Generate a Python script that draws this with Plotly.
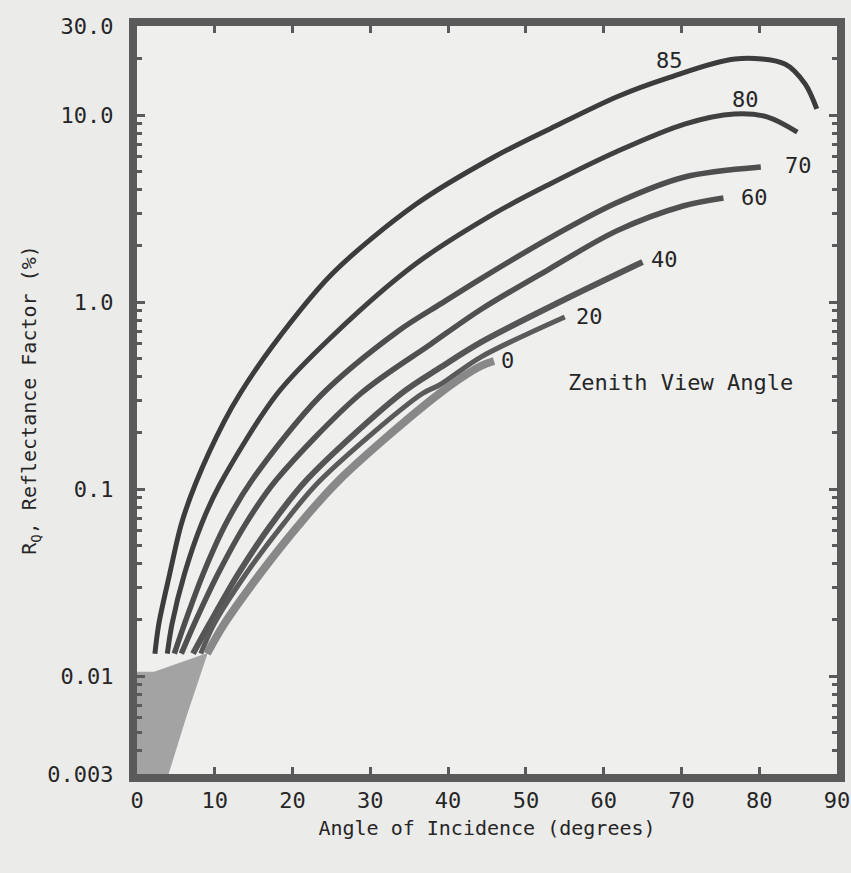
import math
import plotly.graph_objects as go

# ---- data (angle of incidence in degrees, reflectance factor in %) ----
zenith_labels = ["85", "80", "70", "60", "40", "20", "0"]

angle_85 = [2.3, 2.8, 4.2, 5.7, 7.6, 11.2, 13.3, 17.5, 25.1, 35.9, 45.9, 53.2, 61.8, 68.2, 76.9, 83.3, 85.9, 87.4]
refl_85 = [0.0132, 0.019, 0.0352, 0.0651, 0.109, 0.230, 0.327, 0.589, 1.42, 3.35, 5.98, 8.5, 12.6, 15.8, 20.0, 18.8, 14.7, 10.8]

angle_80 = [3.9, 4.5, 6.1, 8.3, 10.6, 18.0, 25.0, 35.8, 45.8, 53.1, 61.7, 70.4, 76.8, 81.1, 84.9]
refl_80 = [0.0132, 0.019, 0.0352, 0.0652, 0.105, 0.323, 0.652, 1.60, 2.96, 4.29, 6.4, 8.97, 10.15, 9.78, 8.13]

angle_70 = [4.8, 6.1, 8.5, 11.4, 14.8, 23.6, 33.6, 39.2, 44.4, 53.1, 61.6, 70.3, 80.2]
refl_70 = [0.0132, 0.019, 0.0352, 0.0651, 0.112, 0.316, 0.702, 0.989, 1.35, 2.21, 3.39, 4.66, 5.28]

angle_60 = [5.7, 7.35, 10.4, 13.95, 17.9, 28.7, 37.8, 44.3, 53.0, 61.6, 70.2, 75.4]
refl_60 = [0.0132, 0.019, 0.0352, 0.0651, 0.112, 0.323, 0.598, 0.92, 1.505, 2.40, 3.27, 3.61]

angle_40 = [7.2, 9.3, 13.0, 17.3, 21.8, 33.9, 39.1, 44.3, 54.6, 65.0]
refl_40 = [0.0132, 0.019, 0.0352, 0.0651, 0.112, 0.323, 0.45, 0.613, 1.015, 1.64]

angle_20 = [8.2, 9.9, 14.0, 18.8, 23.6, 36.6, 39.0, 44.2, 55.0]
refl_20 = [0.0132, 0.019, 0.0352, 0.0651, 0.112, 0.323, 0.363, 0.509, 0.834]

angle_0 = [9.0, 11.2, 15.8, 20.9, 26.0, 38.8, 44.2, 45.9]
refl_0 = [0.0132, 0.019, 0.0352, 0.0651, 0.112, 0.323, 0.456, 0.485]

# converging shaded wedge near the origin
wedge_angle = [0.0, 0.0, 2.2, 9.0, 6.3, 4.0, 0.0]
wedge_refl = [0.003, 0.0105, 0.0105, 0.0132, 0.0061, 0.003, 0.003]

x_ticks = [0, 10, 20, 30, 40, 50, 60, 70, 80, 90]
x_ticktext = ["0", "10", "20", "30", "40", "50", "60", "70", "80", "90"]
y_ticks = [0.003, 0.01, 0.1, 1, 10, 30]
y_ticktext = ["0.003", "0.01", "0.1", "1.0", "10.0", "30.0"]

curves = [
    (angle_85, refl_85, "#3c3c3c", 5),
    (angle_80, refl_80, "#404040", 5),
    (angle_70, refl_70, "#4e4e4e", 5.5),
    (angle_60, refl_60, "#505050", 5.5),
    (angle_40, refl_40, "#555555", 6),
    (angle_20, refl_20, "#5a5a5a", 5),
    (angle_0, refl_0, "#888888", 8),
]

FONT = "DejaVu Sans Mono"
INK = "#262626"
FRAME = "#5a5a5a"

fig = go.Figure()

fig.add_trace(go.Scatter(
    x=wedge_angle, y=wedge_refl, mode="lines", fill="toself",
    fillcolor="#a3a3a3", line=dict(color="#a3a3a3", width=1),
    hoverinfo="skip", showlegend=False))

for (xs, ys, col, w), name in zip(curves, zenith_labels):
    fig.add_trace(go.Scatter(
        x=xs, y=ys, mode="lines", name=name,
        line=dict(color=col, width=w, shape="spline", smoothing=0.9),
        showlegend=False))

labels = [
    ("85", 68.5, 19.5), ("80", 78.2, 12.2), ("70", 85.0, 5.4), ("60", 79.4, 3.65),
    ("40", 67.8, 1.70), ("20", 58.2, 0.843), ("0", 47.6, 0.485),
]
annotations = [dict(x=lx, y=math.log10(ly), xref="x", yref="y", text=t, showarrow=False,
                    font=dict(family=FONT, size=22, color=INK), yanchor="middle")
               for t, lx, ly in labels]
annotations.append(dict(x=69.9, y=math.log10(0.374), xref="x", yref="y",
                        text="Zenith View Angle", showarrow=False,
                        font=dict(family=FONT, size=22, color=INK)))

minor_vals = [m * 10 ** e for e in range(-3, 2) for m in range(2, 10)
              if 0.003 < m * 10 ** e < 30]

fig.update_layout(
    width=851, height=873,
    margin=dict(l=137, r=14, t=26, b=99, autoexpand=False),
    paper_bgcolor="#ebebea", plot_bgcolor="#efefee",
    annotations=annotations,
    font=dict(family=FONT, color=INK),
    hovermode=False,
)
fig.update_xaxes(
    range=[0, 90], tickvals=x_ticks, ticktext=x_ticktext,
    showgrid=False, zeroline=False, automargin=False,
    showline=True, linewidth=8, linecolor=FRAME, mirror="allticks",
    ticks="inside", ticklen=7, tickwidth=3, tickcolor=FRAME,
    tickfont=dict(family=FONT, size=22, color=INK),
    ticklabelstandoff=0,
    title=dict(text="Angle of Incidence (degrees)", font=dict(family=FONT, size=20, color=INK), standoff=12),
)
fig.update_yaxes(
    type="log", range=[math.log10(0.003), math.log10(30)],
    tickvals=y_ticks, ticktext=y_ticktext,
    showgrid=False, zeroline=False, automargin=False,
    showline=True, linewidth=8, linecolor=FRAME, mirror="allticks",
    ticks="inside", ticklen=8, tickwidth=3, tickcolor=FRAME,
    minor=dict(tickvals=minor_vals, ticks="inside", ticklen=5, tickwidth=3, tickcolor=FRAME, showgrid=False),
    tickfont=dict(family=FONT, size=22, color=INK),
    ticklabelstandoff=11,
    title=dict(text="R<sub>Q</sub>, Reflectance Factor (%)", font=dict(family=FONT, size=20, color=INK), standoff=8),
)

fig.write_html("out.html", config={"displayModeBar": False},
               post_script="document.body.style.margin='0';")
